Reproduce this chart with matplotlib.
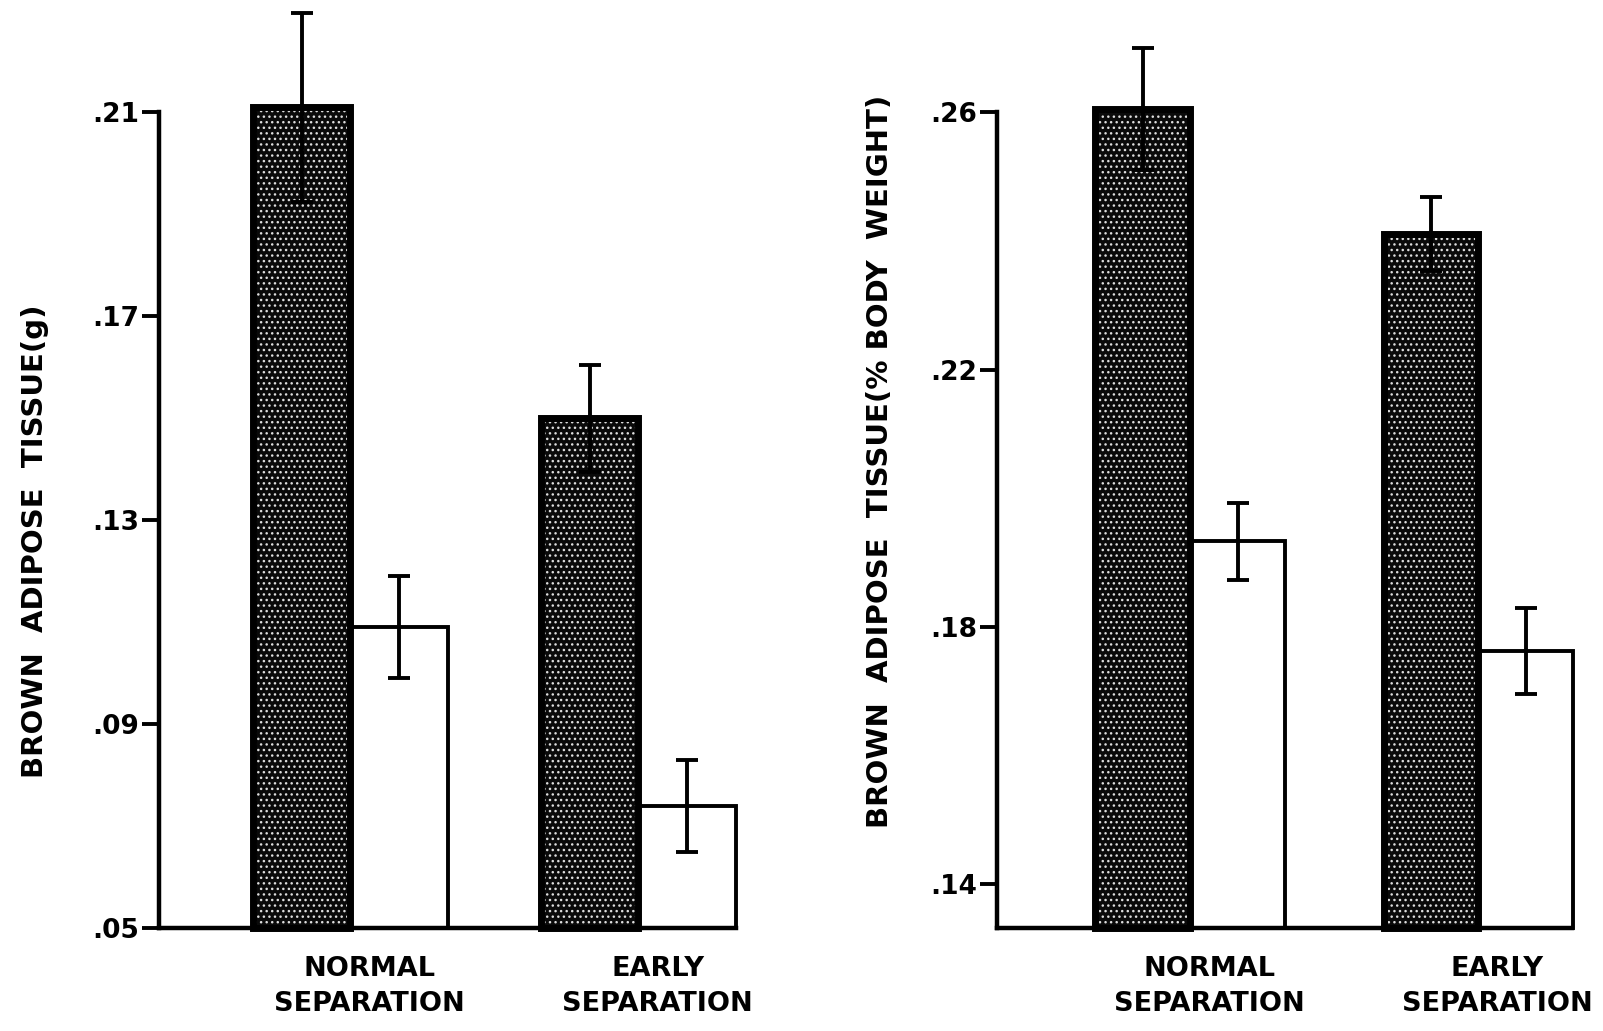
import numpy as np
import matplotlib
matplotlib.use("Agg")
import matplotlib.pyplot as plt

plt.rcParams['font.family'] = ['DejaVu Sans']
plt.rcParams['font.weight'] = 'bold'

groups = ["NORMAL\nSEPARATION", "EARLY\nSEPARATION"]

# left panel: grams
dark_g = [0.211, 0.150]
dark_g_err = [0.0185, 0.0105]
white_g = [0.109, 0.074]
white_g_err = [0.010, 0.009]
ticks_g = [0.05, 0.09, 0.13, 0.17, 0.21]
ticklab_g = ['.05', '.09', '.13', '.17', '.21']

# right panel: % body weight
dark_p = [0.2605, 0.2411]
dark_p_err = [0.0095, 0.0058]
white_p = [0.1933, 0.1763]
white_p_err = [0.0060, 0.0067]
ticks_p = [0.14, 0.18, 0.22, 0.26]
ticklab_p = ['.14', '.18', '.22', '.26']

fig = plt.figure(figsize=(16.03, 10.31), dpi=100)
ax1 = fig.add_axes([0.0989, 0.0999, 0.360, 0.791])
ax2 = fig.add_axes([0.6218, 0.0999, 0.359, 0.791])


def panel(ax, centers, xmax, dark, dark_err, white, white_err, ylim, ticks, ticklab, ylabel, lab_xy):
    centers = np.array(centers)
    xd = centers - 0.5
    xw = centers + 0.5
    base = ylim[0]
    dh = np.array(dark) - base
    wh = np.array(white) - base
    # stippled dark bars
    ax.bar(xd, dh, width=1.0, bottom=base, color='#0a0a0a', edgecolor='#dddddd',
           hatch='...', linewidth=0, zorder=2, clip_on=False)
    ax.bar(xd, dh, width=1.0, bottom=base, color='none', edgecolor='black',
           linewidth=5, zorder=3, clip_on=False)
    # open bars
    ax.bar(xw, wh, width=1.0, bottom=base, color='white', edgecolor='black',
           linewidth=2.8, zorder=2, clip_on=False)
    ax.errorbar(xd, dark, yerr=dark_err, fmt='none', ecolor='black',
                elinewidth=2.8, capsize=8, capthick=2.8, zorder=4, clip_on=False)
    ax.errorbar(xw, white, yerr=white_err, fmt='none', ecolor='black',
                elinewidth=2.8, capsize=8, capthick=2.8, zorder=4, clip_on=False)
    ax.set_xlim(0, xmax)
    ax.set_ylim(*ylim)
    ax.set_yticks(ticks)
    ax.set_yticklabels(ticklab, fontsize=19, fontweight='bold')
    ax.set_xticks(centers + 0.2)
    ax.set_xticklabels(groups, fontsize=19.5, fontweight='bold', linespacing=1.45)
    ax.tick_params(axis='x', length=0, pad=20)
    ax.tick_params(axis='y', direction='out', length=12, width=2.8, pad=2)
    for s in ['top', 'right']:
        ax.spines[s].set_visible(False)
    for s in ['left', 'bottom']:
        ax.spines[s].set_linewidth(3.2)
    ax.set_ylabel(ylabel, fontsize=21, fontweight='bold')
    ax.yaxis.set_label_coords(*lab_xy)


panel(ax1, [1.97, 4.93], 5.93, dark_g, dark_g_err, white_g, white_g_err,
      (0.05, 0.21), ticks_g, ticklab_g, "BROWN  ADIPOSE  TISSUE(g)", (-0.19, 0.474))
panel(ax2, [2.04, 5.08], 6.07, dark_p, dark_p_err, white_p, white_p_err,
      (0.1332, 0.26), ticks_p, ticklab_p, "BROWN  ADIPOSE  TISSUE(% BODY  WEIGHT)", (-0.178, 0.572))

fig.savefig("out.png", dpi=100)
